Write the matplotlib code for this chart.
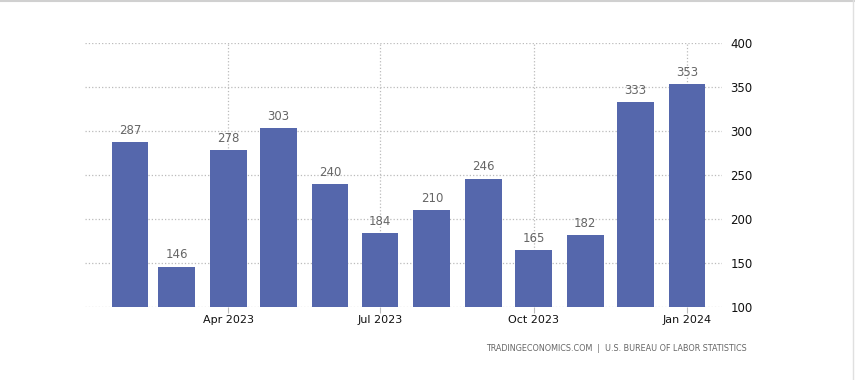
import pandas as pd
import matplotlib
matplotlib.use('Agg')
import matplotlib.pyplot as plt
from matplotlib.lines import Line2D

# Datos: nóminas no agrícolas (miles)
meses = pd.date_range('2023-02-01', '2024-01-01', freq='MS')
valores = [287, 146, 278, 303, 240, 184, 210, 246, 165, 182, 333, 353]
ticks = pd.to_datetime(['2023-04-01', '2023-07-01', '2023-10-01', '2024-01-01'])
tick_labels = ['Apr 2023', 'Jul 2023', 'Oct 2023', 'Jan 2024']

fig = plt.figure(figsize=(8.55, 3.8), dpi=100)
ax = fig.add_axes([0.0994, 0.192, 0.745, 0.695])

ax.bar(meses, valores, width=22, color='#5567AC', zorder=2)

for m, v in zip(meses, valores):
    ax.text(m, v + 6, str(v), ha='center', va='bottom', fontsize=8.5, color='#666666')

ax.set_ylim(100, 400)
ax.set_yticks([100, 150, 200, 250, 300, 350, 400])
ax.set_xlim(pd.Timestamp('2023-01-05'), pd.Timestamp('2024-01-22'))
ax.set_xticks(ticks)
ax.set_xticklabels(tick_labels)

ax.yaxis.tick_right()
ax.tick_params(axis='y', length=0, labelsize=8.5, pad=6, labelcolor='#111111')
ax.tick_params(axis='x', length=4, color='#bbbbbb', labelsize=8, labelcolor='#111111', pad=2)

ax.grid(True, linestyle=':', color='#bbbbbb', linewidth=0.9, zorder=0)
ax.set_axisbelow(True)
for s in ax.spines.values():
    s.set_visible(False)

fig.text(0.873, 0.082, 'TRADINGECONOMICS.COM  |  U.S. BUREAU OF LABOR STATISTICS',
         ha='right', va='center', fontsize=5.8, color='#666666')

# borde gris arriba y a la derecha
fig.add_artist(Line2D([0, 1], [0.998, 0.998], transform=fig.transFigure, color='#d0d0d0', linewidth=1.5))
fig.add_artist(Line2D([0.998, 0.998], [0, 1], transform=fig.transFigure, color='#e0e0e0', linewidth=1))

fig.savefig('out.png', dpi=100)
